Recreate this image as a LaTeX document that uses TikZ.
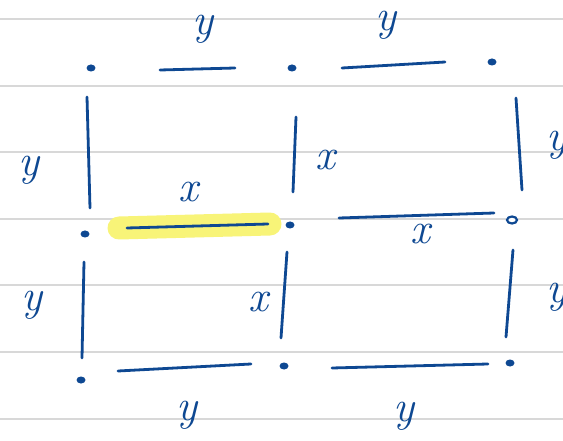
\documentclass[tikz,border=0pt]{standalone}
\usepackage{tikz}
\usetikzlibrary{calc,shapes.geometric}
\definecolor{inkblue}{RGB}{14,72,146}
\definecolor{ruling}{RGB}{216,216,216}
\definecolor{marker}{RGB}{248,244,120}
\tikzset{
  rule/.style={draw=ruling, line width=1.4pt},
  pen/.style={draw=inkblue, line width=2.8pt, line cap=round},
  dot/.style={ellipse, fill=inkblue, inner sep=0pt, minimum width=9pt, minimum height=7pt},
  ring/.style={ellipse, draw=inkblue, line width=2.2pt, fill=white, inner sep=0pt, minimum width=10pt, minimum height=7pt},
  hilite/.style={draw=marker, line width=23pt, line cap=round},
  lbl/.style={text=inkblue, font=\fontsize{44}{44}\selectfont\itshape, inner sep=0pt}
}
\begin{document}
\begin{tikzpicture}[x=1pt,y=-1pt]
  \useasboundingbox (0,0) rectangle (563,441);
  \clip (0,0) rectangle (563,441);
  \fill[white] (0,0) rectangle (563,441);
  % ruled paper
  \foreach \yy in {19,86,152,219,285,352,419}
    \draw[rule] (0,\yy) -- (563,\yy);

  % grid points
  \node[dot] (tl) at (91,68) {};
  \node[dot] (tm) at (292,68) {};
  \node[dot] (tr) at (492,62) {};
  \node[dot] (ml) at (85,234) {};
  \node[dot] (mm) at (290,225) {};
  \node[ring] (mr) at (512,220) {};
  \node[dot] (bl) at (81,380) {};
  \node[dot] (bm) at (284,366) {};
  \node[dot] (br) at (510,363) {};

  % stroke ends
  \coordinate (h1a) at (160,70);  \coordinate (h1b) at (235,68);
  \coordinate (h2a) at (342,68);  \coordinate (h2b) at (445,62);
  \coordinate (h3a) at (127,228); \coordinate (h3b) at (268,224);
  \coordinate (h4a) at (339,218); \coordinate (h4b) at (494,213);
  \coordinate (h5a) at (118,371); \coordinate (h5b) at (251,364);
  \coordinate (h6a) at (332,368); \coordinate (h6b) at (488,364);
  \coordinate (v1a) at (87,97);   \coordinate (v1b) at (90,208);
  \coordinate (v2a) at (84,262);  \coordinate (v2b) at (82,358);
  \coordinate (v3a) at (296,117); \coordinate (v3b) at (293,192);
  \coordinate (v4a) at (287,252); \coordinate (v4b) at (281,338);
  \coordinate (v5a) at (516,98);  \coordinate (v5b) at (522,190);
  \coordinate (v6a) at (513,250); \coordinate (v6b) at (506,337);

  % highlighted edge
  \draw[hilite] ($(h3a)+(-8,0)$) -- ($(h3b)+(2,0)$);

  % strokes
  \foreach \s in {h1,h2,h3,h4,h5,h6,v1,v2,v3,v4,v5,v6}
    \draw[pen] (\s a) -- (\s b);

  % weights
  \node[lbl] (w1) at (203,29) {y};
  \node[lbl] (w2) at (386,25) {y};
  \node[lbl] (w3) at (29,170) {y};
  \node[lbl] (w4) at (325,160) {x};
  \node[lbl] (w5) at (557,145) {y};
  \node[lbl] (w6) at (188,192) {x};
  \node[lbl] (w7) at (420,234) {x};
  \node[lbl] (w8) at (32,305) {y};
  \node[lbl] (w9) at (258,302) {x};
  \node[lbl] (w10) at (557,297) {y};
  \node[lbl] (w11) at (187,415) {y};
  \node[lbl] (w12) at (404,416) {y};
\end{tikzpicture}
\end{document}
